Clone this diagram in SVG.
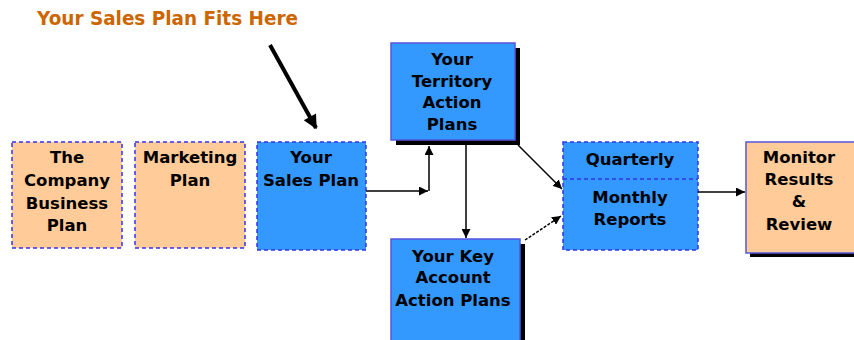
<svg xmlns="http://www.w3.org/2000/svg" width="854" height="340" viewBox="0 0 854 340">
  <style>
    text { font-family: "DejaVu Sans", Verdana, sans-serif; font-weight: bold; font-size: 16.5px; fill: #000; text-anchor: middle; }
    .title { fill: #CC6600; font-size: 19px; text-anchor: start; }
    .peach { fill: #FFCC99; }
    .blue { fill: #3399FF; }
    .dash { stroke: #3333EE; stroke-width: 1.5; stroke-dasharray: 4 3; }
    .solid { stroke: #5555DD; stroke-width: 1.5; }
    .shadow { fill: #000; }
    .conn { stroke: #000; stroke-width: 1.5; fill: none; }
  </style>
  <defs>
    <marker id="ah" viewBox="0 0 10 10" refX="10" refY="5" markerWidth="9" markerHeight="9" markerUnits="userSpaceOnUse" orient="auto">
      <path d="M0,0 L10,5 L0,10 z" fill="#000"/>
    </marker>
    <marker id="bigah" viewBox="0 0 10 10" refX="9" refY="5" markerWidth="16" markerHeight="14" markerUnits="userSpaceOnUse" orient="auto">
      <path d="M0,0 L10,5 L0,10 z" fill="#000"/>
    </marker>
  </defs>

  <rect width="854" height="340" fill="#fff"/>

  <text class="title" x="37" y="25" textLength="261" lengthAdjust="spacingAndGlyphs">Your Sales Plan Fits Here</text>

  <g id="company-plan">
    <rect class="peach dash" x="12" y="142" width="110" height="106"/>
    <text x="67" y="163">The</text>
    <text x="67" y="186">Company</text>
    <text x="67" y="209">Business</text>
    <text x="67" y="231">Plan</text>
  </g>

  <g id="marketing-plan">
    <rect class="peach dash" x="135" y="142" width="110" height="106"/>
    <text x="190" y="163">Marketing</text>
    <text x="190" y="186">Plan</text>
  </g>

  <g id="sales-plan">
    <rect class="blue dash" x="257" y="142" width="109" height="108"/>
    <text x="311" y="163">Your</text>
    <text x="311" y="186">Sales Plan</text>
  </g>

  <g id="territory-plans">
    <rect class="shadow" x="396" y="48" width="124" height="97"/>
    <rect class="blue solid" x="391" y="43" width="124" height="97"/>
    <text x="452" y="65">Your</text>
    <text x="452" y="87">Territory</text>
    <text x="452" y="108">Action</text>
    <text x="452" y="130">Plans</text>
  </g>

  <g id="key-account-plans">
    <rect class="shadow" x="396" y="244" width="129" height="110"/>
    <rect class="blue solid" x="391" y="239" width="129" height="110"/>
    <text x="453" y="262">Your Key</text>
    <text x="453" y="283">Account</text>
    <text x="453" y="306">Action Plans</text>
  </g>

  <g id="reports">
    <rect class="blue dash" x="563" y="142" width="135" height="108"/>
    <line class="dash" x1="563" y1="179" x2="698" y2="179"/>
    <text x="630" y="165">Quarterly</text>
    <text x="630" y="203">Monthly</text>
    <text x="630" y="225">Reports</text>
  </g>

  <g id="monitor-review">
    <rect class="shadow" x="750" y="146" width="112" height="111"/>
    <rect class="peach solid" x="746" y="142" width="112" height="111"/>
    <text x="799" y="163">Monitor</text>
    <text x="799" y="185">Results</text>
    <text x="799" y="207">&amp;</text>
    <text x="799" y="230">Review</text>
  </g>

  <g id="connectors">
    <line x1="270" y1="45" x2="316" y2="128" stroke="#000" stroke-width="4" marker-end="url(#bigah)"/>
    <line class="conn" x1="366" y1="191" x2="428" y2="191" marker-end="url(#ah)"/>
    <line class="conn" x1="429" y1="191" x2="429" y2="146" marker-end="url(#ah)"/>
    <line class="conn" x1="466" y1="145" x2="466" y2="238" marker-end="url(#ah)"/>
    <line class="conn" x1="518" y1="145" x2="562" y2="189" stroke-width="1.2" marker-end="url(#ah)"/>
    <line class="conn" x1="525" y1="240" x2="561" y2="216" stroke-width="1.2" stroke-dasharray="3 1.5" marker-end="url(#ah)"/>
    <line class="conn" x1="698" y1="192" x2="745" y2="192" marker-end="url(#ah)"/>
  </g>
</svg>
